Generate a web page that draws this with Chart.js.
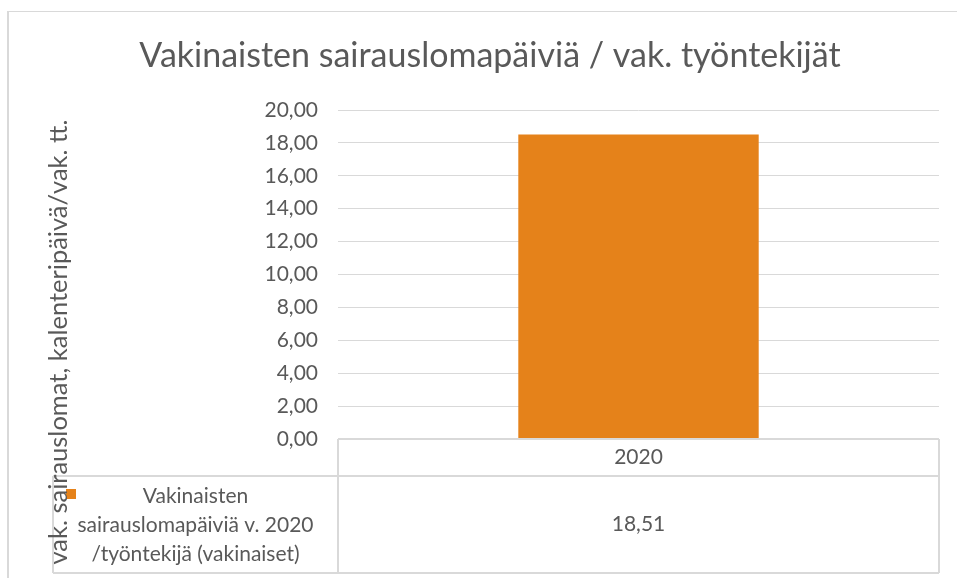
<!DOCTYPE html>
<html lang="fi">
<head>
  <meta charset="UTF-8">
  <title>Vakinaisten sairauslomapäiviä / vak. työntekijät</title>
  <script src="https://cdn.jsdelivr.net/npm/chart.js"></script>
  <style>
    body {
      margin: 0;
      background: #fff;
    }
    #wrap {
      width: 957px;
      height: 578px;
    }
  </style>
</head>
<body>

  <div id="wrap">
    <canvas id="sickChart" width="957" height="578"></canvas>
  </div>

<script>
  const years = ['2020'];
  const sickDays = [18.51];
  const seriesName = ['Vakinaisten', 'sairauslomapäiviä v. 2020', '/työntekijä (vakinaiset)'];
  const chartTitle = 'Vakinaisten sairauslomapäiviä / vak. työntekijät';
  const yTitle = 'vak. sairauslomat, kalenteripäivä/vak. tt.';

  const GRID = '#d9d9d9';
  const TEXT = '#595959';
  const ORANGE = '#e5821a';
  const FONT = 'Lato, "Open Sans", sans-serif';

  function fmt(v) {
    return v.toFixed(2).replace('.', ',');
  }

  // Excel-style frame, title, data table and rotated axis title
  const tablePlugin = {
    id: 'excelTable',
    afterDraw(chart) {
      const c = chart.ctx;
      const area = chart.chartArea;
      const x = chart.scales.x;
      const top = area.bottom;
      const rowSplit = top + 37;
      const bottom = 573;
      const left = 53;

      c.save();

      // outer frame
      c.strokeStyle = GRID;
      c.lineWidth = 1;
      c.beginPath();
      c.moveTo(7, 11.5);
      c.lineTo(957, 11.5);
      c.stroke();
      c.lineWidth = 2;
      c.beginPath();
      c.moveTo(8, 11);
      c.lineTo(8, 578);
      c.stroke();

      // title
      c.fillStyle = TEXT;
      c.font = '34px ' + FONT;
      c.textAlign = 'center';
      c.textBaseline = 'middle';
      c.fillText(chartTitle, 490, 56);

      // table lines
      c.strokeStyle = GRID;
      c.lineWidth = 2;
      c.beginPath();
      c.moveTo(area.left, top);
      c.lineTo(area.right, top);
      c.moveTo(left, rowSplit);
      c.lineTo(area.right, rowSplit);
      c.moveTo(left, bottom);
      c.lineTo(area.right, bottom);
      c.moveTo(area.left, top);
      c.lineTo(area.left, bottom);
      c.moveTo(area.right, top);
      c.lineTo(area.right, bottom);
      c.moveTo(left, rowSplit);
      c.lineTo(left, bottom);
      c.stroke();

      // table texts
      c.fillStyle = TEXT;
      c.font = '21px ' + FONT;
      c.textAlign = 'center';
      c.textBaseline = 'middle';
      years.forEach((yr, i) => {
        const cx = x.getPixelForValue(i);
        c.fillText(yr, cx, (top + rowSplit) / 2);
        c.fillText(fmt(sickDays[i]), cx, (rowSplit + bottom) / 2);
      });

      // legend key + series name
      c.fillStyle = ORANGE;
      c.fillRect(66, 489, 10, 10);
      c.fillStyle = TEXT;
      const nameX = (left + area.left) / 2;
      seriesName.forEach((line, i) => {
        c.fillText(line, nameX, 496 + i * 29);
      });

      // y axis title
      c.translate(59, 342);
      c.rotate(-Math.PI / 2);
      c.font = '25.5px ' + FONT;
      c.fillText(yTitle, 0, 0);

      c.restore();
    }
  };

  const ctx = document.getElementById('sickChart').getContext('2d');
  const sickChart = new Chart(ctx, {
    type: 'bar',
    data: {
      labels: years,
      datasets: [{
        label: seriesName.join(' '),
        data: sickDays,
        backgroundColor: ORANGE,
        barPercentage: 0.4,
        categoryPercentage: 1
      }]
    },
    options: {
      responsive: false,
      animation: false,
      layout: {
        padding: { left: 0, top: 110, right: 18, bottom: 139 }
      },
      plugins: {
        legend: { display: false },
        tooltip: { enabled: false }
      },
      scales: {
        x: {
          display: false
        },
        y: {
          min: 0,
          max: 20,
          afterFit(scale) {
            scale.width = 338;
          },
          border: { display: false },
          grid: {
            color: GRID,
            lineWidth: 1,
            drawTicks: false
          },
          ticks: {
            stepSize: 2,
            padding: 20,
            color: TEXT,
            font: { family: FONT, size: 21 },
            callback: v => fmt(v)
          }
        }
      }
    },
    plugins: [tablePlugin]
  });
</script>

</body>
</html>
